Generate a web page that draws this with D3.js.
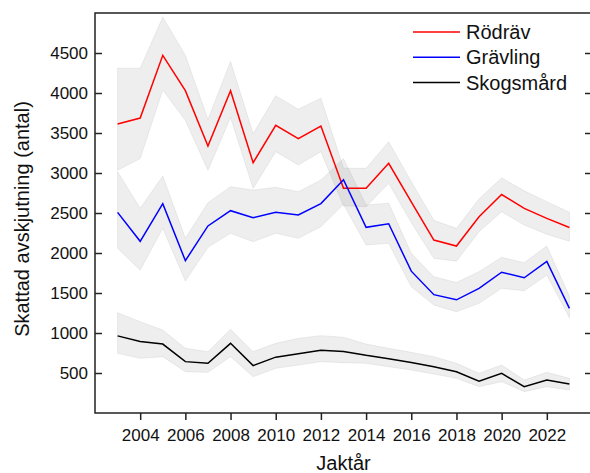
<!DOCTYPE html>
<html>
<head>
<meta charset="utf-8">
<script src="https://cdn.jsdelivr.net/npm/d3@7"></script>
<style>
  body { margin: 0; background: #fff; }
  svg { display: block; font-family: "Liberation Sans", Arial, sans-serif; }
</style>
</head>
<body>
<div id="chart"></div>
<script>
// data
const years = d3.range(2003, 2024);

const rodrav      = [3612, 3687, 4471, 4029, 3337, 4029, 3129, 3596, 3429, 3587, 2808, 2808, 3121, 2640, 2162, 2087, 2454, 2731, 2558, 2433, 2319];
const rodravHi    = [4310, 4310, 4950, 4470, 3670, 4395, 3490, 3965, 3798, 3935, 3060, 3058, 3392, 2892, 2408, 2308, 2675, 2940, 2777, 2642, 2510];
const rodravLo    = [3035, 3180, 4037, 3655, 3035, 3695, 2808, 3267, 3100, 3267, 2590, 2579, 2871, 2380, 1933, 1898, 2267, 2517, 2350, 2235, 2146];

const gravling    = [2508, 2146, 2617, 1904, 2338, 2529, 2442, 2508, 2475, 2617, 2915, 2321, 2366, 1773, 1479, 1415, 1558, 1760, 1690, 1894, 1308];
const gravlingHi  = [3017, 2558, 2962, 2183, 2629, 2829, 2787, 2821, 2767, 2912, 3180, 2600, 2621, 1996, 1704, 1630, 1767, 1946, 1879, 2087, 1460];
const gravlingLo  = [2058, 1787, 2308, 1650, 2071, 2246, 2142, 2246, 2183, 2329, 2610, 2100, 2121, 1579, 1350, 1266, 1371, 1558, 1529, 1725, 1190];

const skogsmard   = [964, 894, 862, 642, 621, 871, 592, 698, 740, 783, 770, 721, 679, 631, 579, 515, 398, 496, 329, 412, 362];
const skogsmardHi = [1254, 1142, 1037, 808, 767, 1046, 767, 871, 933, 967, 946, 862, 808, 758, 704, 621, 496, 600, 412, 508, 433];
const skogsmardLo = [746, 683, 704, 517, 508, 704, 454, 558, 600, 642, 629, 621, 579, 537, 487, 433, 329, 392, 267, 329, 287];

const xTicks = d3.range(2004, 2023, 2);
const yTicks = [500, 1000, 1500, 2000, 2500, 3000, 3500, 4000, 4500];

const seriesNames = ['Rödräv', 'Grävling', 'Skogsmård'];
const seriesColors = ['#ff0000', '#0000ff', '#000000'];

const series = [
  { name: seriesNames[0], color: seriesColors[0], v: rodrav,    hi: rodravHi,    lo: rodravLo },
  { name: seriesNames[1], color: seriesColors[1], v: gravling,  hi: gravlingHi,  lo: gravlingLo },
  { name: seriesNames[2], color: seriesColors[2], v: skogsmard, hi: skogsmardHi, lo: skogsmardLo }
];

const width = 590, height = 473;
const box = { left: 95, right: 592, top: 13, bottom: 413 };

const svg = d3.select('#chart').append('svg')
  .attr('width', width)
  .attr('height', height);

const x = d3.scaleLinear().domain([2002, 2024]).range([box.left, box.right]);
const y = d3.scaleLinear().domain([0, 5000]).range([box.bottom, box.top]);

// confidence bands
const area = d3.area()
  .x((d, i) => x(years[i]))
  .y0(d => y(d[0]))
  .y1(d => y(d[1]));

series.forEach(s => {
  svg.append('path')
    .datum(s.lo.map((lo, i) => [lo, s.hi[i]]))
    .attr('d', area)
    .attr('fill', 'rgba(120,120,120,0.13)')
    .attr('stroke', 'rgba(120,120,120,0.12)')
    .attr('stroke-width', 1);
});

// lines
const line = d3.line()
  .x((d, i) => x(years[i]))
  .y(d => y(d));

series.forEach(s => {
  svg.append('path')
    .datum(s.v)
    .attr('d', line)
    .attr('fill', 'none')
    .attr('stroke', s.color)
    .attr('stroke-width', 1.5)
    .attr('stroke-linejoin', 'miter');
});

// box
svg.append('rect')
  .attr('x', box.left)
  .attr('y', box.top)
  .attr('width', box.right - box.left)
  .attr('height', box.bottom - box.top)
  .attr('fill', 'none')
  .attr('stroke', '#222')
  .attr('stroke-width', 1.5);

// y axis: inward ticks on both sides
const yAxis = svg.append('g').attr('transform', `translate(${box.left},0)`)
  .call(d3.axisRight(y).tickValues(yTicks).tickSize(7).tickFormat(''));
yAxis.select('.domain').remove();
yAxis.selectAll('line').attr('stroke', '#222').attr('stroke-width', 1.5);

const yAxisR = svg.append('g').attr('transform', `translate(${box.right},0)`)
  .call(d3.axisLeft(y).tickValues(yTicks).tickSize(7).tickFormat(''));
yAxisR.select('.domain').remove();
yAxisR.selectAll('line').attr('stroke', '#222').attr('stroke-width', 1.5);

svg.append('g').selectAll('text')
  .data(yTicks)
  .join('text')
    .attr('x', box.left - 7)
    .attr('y', d => y(d))
    .attr('dy', '0.36em')
    .attr('text-anchor', 'end')
    .attr('font-size', 17)
    .attr('fill', '#111')
    .text(d => d);

// x axis: outward ticks
const xAxis = svg.append('g').attr('transform', `translate(0,${box.bottom})`)
  .call(d3.axisBottom(x).tickValues(xTicks).tickSize(7).tickPadding(9).tickFormat(d3.format('d')));
xAxis.select('.domain').remove();
xAxis.selectAll('line').attr('stroke', '#222').attr('stroke-width', 1.5);
xAxis.selectAll('text')
  .attr('font-size', 17)
  .attr('font-family', '"Liberation Sans", Arial, sans-serif')
  .attr('fill', '#111');

// axis titles
svg.append('text')
  .attr('x', (box.left + box.right) / 2)
  .attr('y', 470)
  .attr('text-anchor', 'middle')
  .attr('font-size', 20)
  .attr('fill', '#111')
  .text('Jaktår');

svg.append('text')
  .attr('transform', `translate(29,${(box.top + box.bottom) / 2 + 6}) rotate(-90)`)
  .attr('text-anchor', 'middle')
  .attr('font-size', 20)
  .attr('fill', '#111')
  .text('Skattad avskjutning (antal)');

// legend
const legend = svg.append('g').attr('transform', 'translate(413,32)');
series.forEach((s, i) => {
  const g = legend.append('g').attr('transform', `translate(0,${i * 25.2})`);
  g.append('line')
    .attr('x1', 0).attr('x2', 47)
    .attr('y1', 0).attr('y2', 0)
    .attr('stroke', s.color)
    .attr('stroke-width', 1.5);
  g.append('text')
    .attr('x', 53)
    .attr('y', 0)
    .attr('dy', '0.36em')
    .attr('font-size', 20)
    .attr('fill', '#111')
    .text(s.name);
});
</script>
</body>
</html>
